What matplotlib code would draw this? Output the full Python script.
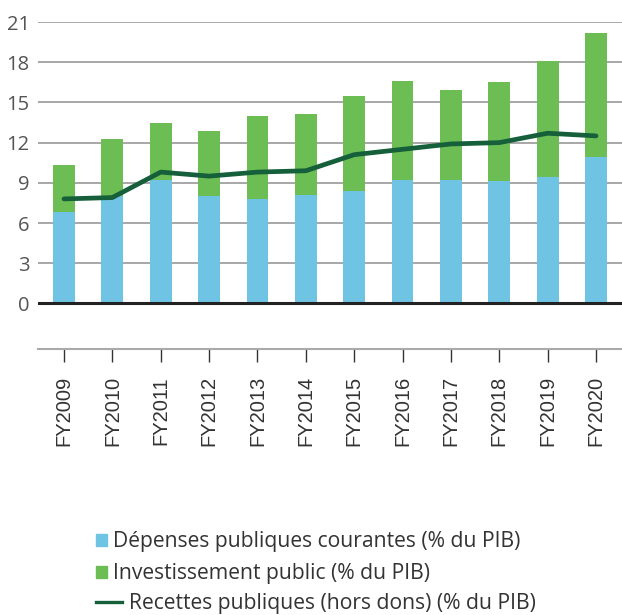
import matplotlib
matplotlib.use("Agg")
import matplotlib.pyplot as plt
from matplotlib.patches import Patch
from matplotlib.lines import Line2D

years = ["FY2009", "FY2010", "FY2011", "FY2012", "FY2013", "FY2014",
         "FY2015", "FY2016", "FY2017", "FY2018", "FY2019", "FY2020"]
depenses = [6.8, 8.0, 9.2, 8.0, 7.8, 8.1, 8.4, 9.2, 9.2, 9.1, 9.4, 10.9]
investissement = [3.5, 4.3, 4.3, 4.9, 6.2, 6.0, 7.1, 7.4, 6.7, 7.4, 8.7, 9.3]
recettes = [7.8, 7.9, 9.8, 9.5, 9.8, 9.9, 11.1, 11.5, 11.9, 12.0, 12.7, 12.5]

blue = "#6fc4e4"
green = "#6cbd53"
dark = "#155f3b"
legend_font = "Open Sans"

fig = plt.figure(figsize=(6.22, 6.15), dpi=100)
ax = fig.add_axes([38 / 622, 1 - 349 / 615, 1 - 38 / 622, (349 - 22) / 615])

x = range(len(years))
ax.bar(x, depenses, width=0.45, color=blue, zorder=2)
ax.bar(x, investissement, width=0.45, bottom=depenses, color=green, zorder=2)
ax.plot(x, recettes, color=dark, lw=3.4, solid_capstyle="round", zorder=3)
ax.axhline(0, color="#222222", lw=2.2, zorder=4)

ax.set_xlim(-0.538, 11.538)
ax.set_ylim(-3.4, 21)
ax.set_yticks(range(0, 22, 3))
ax.set_yticklabels([str(v) for v in range(0, 22, 3)], fontsize=14.5,
                   color="#555555", family=legend_font)
ax.yaxis.grid(True, color="#8f8f8f", lw=1.1, zorder=0)
ax.tick_params(axis="y", length=0, pad=6)

ax.set_xticks(list(x))
ax.set_xticklabels(years, rotation=90, fontsize=14.5, color="#333333",
                   family="Liberation Sans")
ax.tick_params(axis="x", length=9.4, width=1, color="#333333", pad=10)

for side in ["top", "right", "left"]:
    ax.spines[side].set_visible(False)
ax.spines["bottom"].set_color("#aaaaaa")
ax.spines["bottom"].set_linewidth(1.5)

# three one-entry legends so each handle keeps its own width
entries = [
    (Patch(color=blue), "Dépenses publiques courantes (% du PIB)", 542, 0.53),
    (Patch(color=green), "Investissement public (% du PIB)", 574, 0.53),
    (Line2D([], [], color=dark, lw=2.4), "Recettes publiques (hors dons) (% du PIB)", 603, 1.25),
]
for handle, label, ypx, hl in entries:
    leg = fig.legend([handle], [label], loc="center left",
                     bbox_to_anchor=(96 / 622, 1 - ypx / 615),
                     frameon=False, borderpad=0, borderaxespad=0,
                     handlelength=hl, handleheight=0.5, handletextpad=0.29,
                     prop={"family": legend_font, "size": 15.2})
    for t in leg.get_texts():
        t.set_color("#333333")

fig.savefig("out.png", dpi=100)
